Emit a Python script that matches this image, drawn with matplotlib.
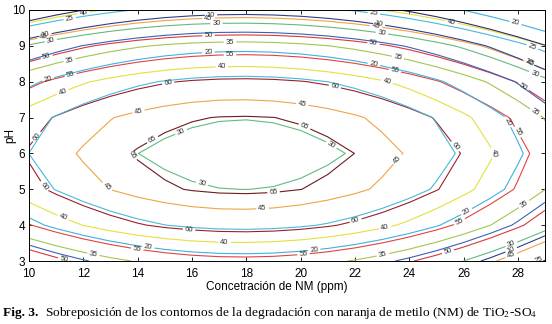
import numpy as np
import matplotlib.pyplot as plt

plt.rcParams['font.family'] = ['Liberation Sans', 'DejaVu Sans']
plt.rcParams['mathtext.fontset'] = 'stix'

# Malla del diseño (concentración de NM y pH)
conc = np.arange(10, 30, 1.0)
ph = np.arange(3, 11, 1.0)

# Superficies de respuesta cuadráticas:
# Z = max - cy*(pH - ph0)^2 - cx*(C - c0)^2
sup_max = [48.5, 66.8, 31.8, 31.2]
sup_c0 = [17.75, 17.85, 17.85, 17.85]
sup_ph0 = [5.97, 5.94, 6.02, 5.98]
sup_cx = [0.0963, 0.105, 0.110, 0.082]
sup_cy = [1.355, 1.456, 1.456, 1.23]
sup_niveles = [[20, 25, 30, 35, 40, 45],
               [40, 45, 50, 55, 60, 65],
               [5, 10, 15, 20, 25],
               [30]]
niveles_etiqueta = [[20, 25, 30, 35, 40, 45],
                    [40, 45, 50, 55, 60, 65],
                    [10, 20],
                    [30]]

colores_nivel = {5: '#27306e', 10: '#2c3f8e', 15: '#3b62b6', 20: '#3cb2e0',
                 25: '#48bad8', 30: '#62bb7e', 35: '#a2c64e', 40: '#e4e03e',
                 45: '#f2a246', 50: '#d8383c', 55: '#e44240', 60: '#a01e2c',
                 65: '#6c1c1e'}

# posiciones aproximadas de las etiquetas de cada superficie
pos_etiquetas = [
    [(11.5, 9.77), (10.8, 9.16), (11.5, 8.6), (11.2, 7.8), (14.0, 7.3),
     (16.9, 9.67), (17.4, 9.19), (17.1, 8.5), (22.7, 9.92), (23.0, 9.4),
     (23.6, 8.74), (23.2, 8.07), (20.1, 7.53), (27.9, 9.6), (28.5, 8.9),
     (28.6, 8.18), (28.6, 7.1), (12.85, 5.05), (11.3, 4.3), (18.6, 4.41),
     (17.2, 3.53), (12.4, 3.3), (23.7, 5.75), (27.1, 6.0), (23.1, 3.98),
     (28.1, 4.73), (23.0, 3.28), (27.7, 3.6), (28.7, 3.2)],
    [(12.0, 9.94), (10.5, 9.38), (10.6, 8.83), (11.5, 8.3), (15.1, 8.1),
     (14.5, 6.45), (10.15, 6.55), (16.6, 9.92), (16.6, 9.47), (17.4, 8.9),
     (22.8, 9.69), (22.7, 9.18), (23.5, 8.4), (21.3, 8.0), (20.2, 6.84),
     (25.6, 9.8), (28.5, 8.6), (28.3, 7.96), (28.0, 6.6), (25.7, 6.2),
     (10.7, 5.15), (19.0, 4.96), (13.8, 5.95), (15.9, 3.92), (14.0, 3.4),
     (11.3, 3.08), (22.0, 4.2), (25.8, 4.18), (25.4, 3.33), (27.7, 3.28),
     (20.1, 3.25)],
    [(10.7, 8.1), (16.6, 8.86), (22.7, 8.5), (27.6, 6.87), (14.4, 3.42),
     (26.1, 4.4), (20.5, 3.33), (10.6, 9.33), (16.7, 9.88), (22.9, 9.65),
     (28.4, 8.55), (27.8, 3.22)],
    [(15.6, 6.6), (21.1, 6.2), (16.4, 5.27)],
]

fig = plt.figure(figsize=(5.52, 3.24), dpi=100)
ax = fig.add_axes([29 / 552, 63 / 324, 516 / 552, 251 / 324])

X, Y = np.meshgrid(conc, ph)
for k in range(len(sup_max)):
    Z = (sup_max[k] - sup_cy[k] * (Y - sup_ph0[k]) ** 2
         - sup_cx[k] * (X - sup_c0[k]) ** 2)
    sin_etiqueta = [v for v in sup_niveles[k] if v not in niveles_etiqueta[k]]
    if sin_etiqueta:
        ax.contour(X, Y, Z, levels=sin_etiqueta,
                   colors=[colores_nivel[v] for v in sin_etiqueta],
                   linewidths=0.8)
    lv = niveles_etiqueta[k]
    cs = ax.contour(X, Y, Z, levels=lv,
                    colors=[colores_nivel[v] for v in lv], linewidths=0.8)
    ax.clabel(cs, manual=pos_etiquetas[k], fontsize=5.5, inline=True,
              inline_spacing=2, colors='#333333', fmt='%d')

ax.set_xlim(10, 29)
ax.set_ylim(3, 10)
ax.set_xticks(np.arange(10, 29, 2))
ax.set_yticks(np.arange(3, 11, 1))
ax.tick_params(direction='in', top=True, right=True, length=3, width=0.6,
               labelsize=8.5)
ax.tick_params(axis='x', pad=5)
ax.tick_params(axis='y', pad=3)
for s in ax.spines.values():
    s.set_linewidth(0.7)

fig.text(277 / 552, 1 - 287 / 324, 'Concetración de NM (ppm)', fontsize=8.5,
         ha='center', va='center')
fig.text(10 / 552, 1 - 135 / 324, 'pH', fontsize=8.5, rotation=90,
         ha='center', va='center')

fig.text(3 / 552, 1 - 313 / 324, 'Fig. 3.', family='Liberation Serif',
         fontweight='bold', fontsize=9.6, va='center')
fig.text(45 / 552, 1 - 313 / 324,
         'Sobreposición de los contornos de la degradación con naranja de '
         'metilo (NM) de TiO$_2$-SO$_4$',
         family='Liberation Serif', fontsize=9.6, va='center')

fig.savefig('out.png', dpi=100)
